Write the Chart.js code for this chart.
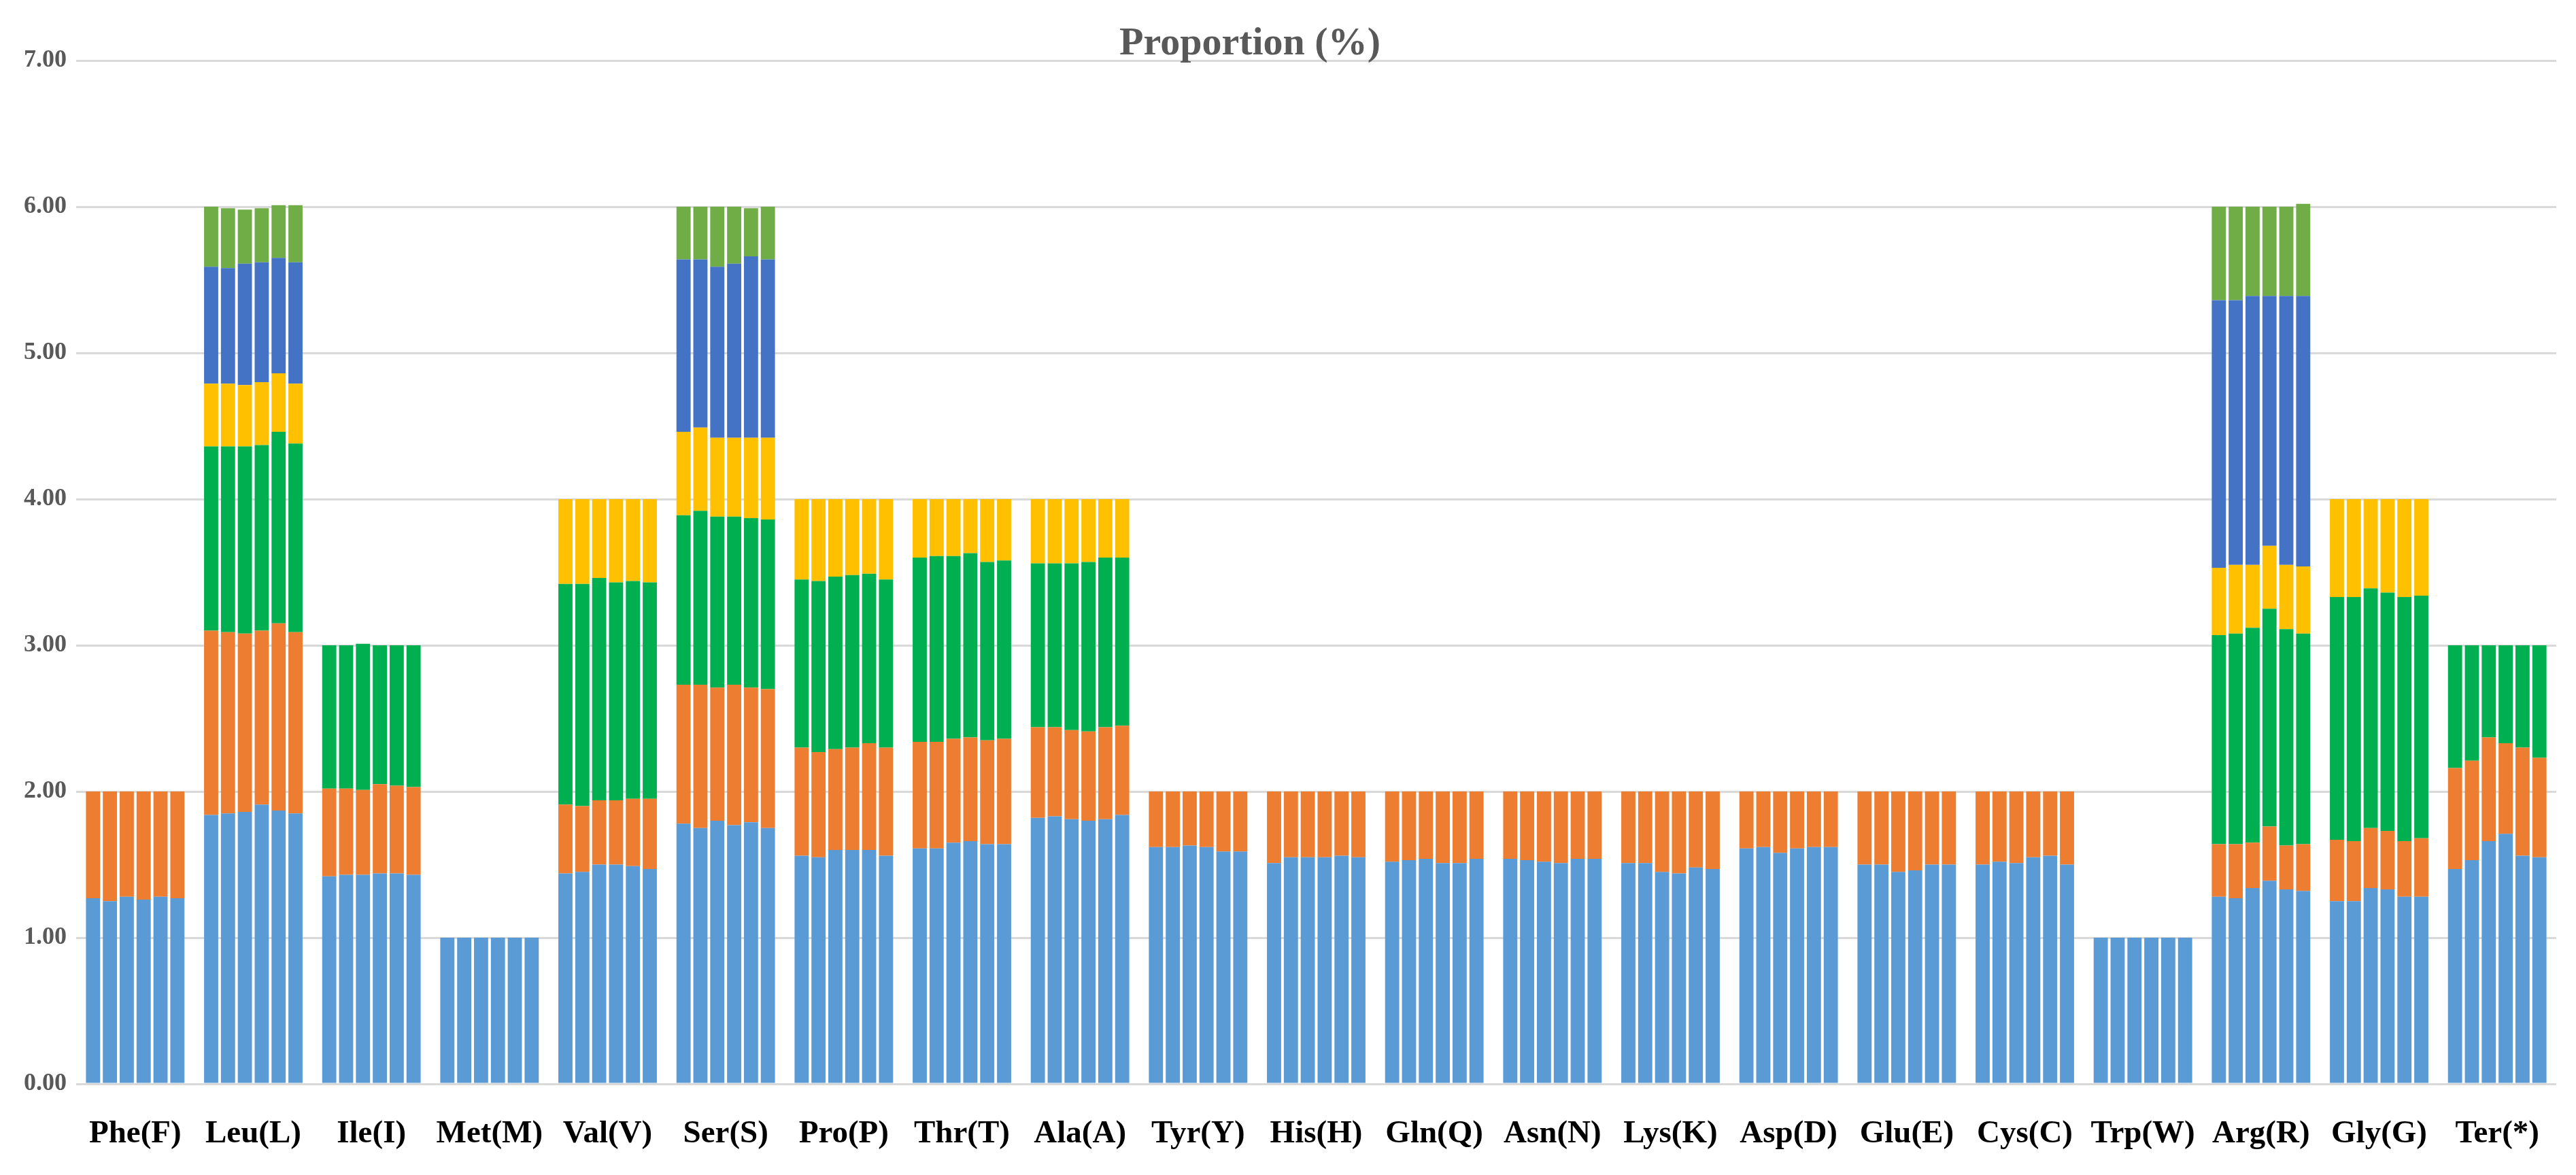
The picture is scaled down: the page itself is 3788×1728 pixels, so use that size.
<!DOCTYPE html>
<html>
<head>
<meta charset="utf-8">
<script src="https://cdn.jsdelivr.net/npm/chart.js@4.4.1/dist/chart.umd.min.js"></script>
<style>
  html, body { margin: 0; padding: 0; background: #fff; }
  #contenedor { width: 3788px; height: 1728px; }
</style>
</head>
<body>
<div id="contenedor"><canvas id="grafico"></canvas></div>
<script>
const aminoacidos = ['Phe(F)', 'Leu(L)', 'Ile(I)', 'Met(M)', 'Val(V)', 'Ser(S)', 'Pro(P)',
    'Thr(T)', 'Ala(A)', 'Tyr(Y)', 'His(H)', 'Gln(Q)', 'Asn(N)', 'Lys(K)', 'Asp(D)',
    'Glu(E)', 'Cys(C)', 'Trp(W)', 'Arg(R)', 'Gly(G)', 'Ter(*)'];

const ticksY = [0, 1, 2, 3, 4, 5, 6, 7];

// cada fila = una barra del grupo, cada columna = un codón (de abajo hacia arriba)
const phe = [[1.27, 0.73], [1.25, 0.75], [1.28, 0.72], [1.26, 0.74], [1.28, 0.72], [1.27, 0.73]];
const leu = [
    [1.84, 1.26, 1.26, 0.43, 0.80, 0.41],
    [1.85, 1.24, 1.27, 0.43, 0.79, 0.41],
    [1.86, 1.22, 1.28, 0.42, 0.83, 0.37],
    [1.91, 1.19, 1.27, 0.43, 0.82, 0.37],
    [1.87, 1.28, 1.31, 0.40, 0.79, 0.36],
    [1.85, 1.24, 1.29, 0.41, 0.83, 0.39]];
const ile = [[1.42, 0.60, 0.98], [1.43, 0.59, 0.98], [1.43, 0.58, 1.00], [1.44, 0.61, 0.95], [1.44, 0.60, 0.96], [1.43, 0.60, 0.97]];
const met = [[1], [1], [1], [1], [1], [1]];
const val = [
    [1.44, 0.47, 1.51, 0.58], [1.45, 0.45, 1.52, 0.58], [1.50, 0.44, 1.52, 0.54],
    [1.50, 0.44, 1.49, 0.57], [1.49, 0.46, 1.49, 0.56], [1.47, 0.48, 1.48, 0.57]];
const ser = [
    [1.78, 0.95, 1.16, 0.57, 1.18, 0.36],
    [1.75, 0.98, 1.19, 0.57, 1.15, 0.36],
    [1.80, 0.91, 1.17, 0.54, 1.17, 0.41],
    [1.77, 0.96, 1.15, 0.54, 1.19, 0.39],
    [1.79, 0.92, 1.16, 0.55, 1.24, 0.33],
    [1.75, 0.95, 1.16, 0.56, 1.22, 0.36]];
const pro = [
    [1.56, 0.74, 1.15, 0.55], [1.55, 0.72, 1.17, 0.56], [1.60, 0.69, 1.18, 0.53],
    [1.60, 0.70, 1.18, 0.52], [1.60, 0.73, 1.16, 0.51], [1.56, 0.74, 1.15, 0.55]];
const thr = [
    [1.61, 0.73, 1.26, 0.40], [1.61, 0.73, 1.27, 0.39], [1.65, 0.71, 1.25, 0.39],
    [1.66, 0.71, 1.26, 0.37], [1.64, 0.71, 1.22, 0.43], [1.64, 0.72, 1.22, 0.42]];
const ala = [
    [1.82, 0.62, 1.12, 0.44], [1.83, 0.61, 1.12, 0.44], [1.81, 0.61, 1.14, 0.44],
    [1.80, 0.61, 1.16, 0.43], [1.81, 0.63, 1.16, 0.40], [1.84, 0.61, 1.15, 0.40]];
const tyr = [[1.62, 0.38], [1.62, 0.38], [1.63, 0.37], [1.62, 0.38], [1.59, 0.41], [1.59, 0.41]];
const his = [[1.51, 0.49], [1.55, 0.45], [1.55, 0.45], [1.55, 0.45], [1.56, 0.44], [1.55, 0.45]];
const gln = [[1.52, 0.48], [1.53, 0.47], [1.54, 0.46], [1.51, 0.49], [1.51, 0.49], [1.54, 0.46]];
const asn = [[1.54, 0.46], [1.53, 0.47], [1.52, 0.48], [1.51, 0.49], [1.54, 0.46], [1.54, 0.46]];
const lys = [[1.51, 0.49], [1.51, 0.49], [1.45, 0.55], [1.44, 0.56], [1.48, 0.52], [1.47, 0.53]];
const asp = [[1.61, 0.39], [1.62, 0.38], [1.58, 0.42], [1.61, 0.39], [1.62, 0.38], [1.62, 0.38]];
const glu = [[1.50, 0.50], [1.50, 0.50], [1.45, 0.55], [1.46, 0.54], [1.50, 0.50], [1.50, 0.50]];
const cys = [[1.50, 0.50], [1.52, 0.48], [1.51, 0.49], [1.55, 0.45], [1.56, 0.44], [1.50, 0.50]];
const trp = [[1], [1], [1], [1], [1], [1]];
const arg = [
    [1.28, 0.36, 1.43, 0.46, 1.83, 0.64],
    [1.27, 0.37, 1.44, 0.47, 1.81, 0.64],
    [1.34, 0.31, 1.47, 0.43, 1.84, 0.61],
    [1.39, 0.37, 1.49, 0.43, 1.71, 0.61],
    [1.33, 0.30, 1.48, 0.44, 1.84, 0.61],
    [1.32, 0.32, 1.44, 0.46, 1.85, 0.63]];
const gly = [
    [1.25, 0.42, 1.66, 0.67], [1.25, 0.41, 1.67, 0.67], [1.34, 0.41, 1.64, 0.61],
    [1.33, 0.40, 1.63, 0.64], [1.28, 0.38, 1.67, 0.67], [1.28, 0.40, 1.66, 0.66]];
const ter = [[1.47, 0.69, 0.84], [1.53, 0.68, 0.79], [1.66, 0.71, 0.63], [1.71, 0.62, 0.67], [1.56, 0.74, 0.70], [1.55, 0.68, 0.77]];

const valoresPorAminoacido = [phe, leu, ile, met, val, ser, pro, thr, ala, tyr, his,
    gln, asn, lys, asp, glu, cys, trp, arg, gly, ter];

const coloresCodon = ['#5B9BD5', '#ED7D31', '#00B050', '#FFC000', '#4472C4', '#70AD47'];

const FUENTE = '"Liberation Serif", "Times New Roman", serif';

// una pila por barra del grupo (6), un dataset por codón dentro de cada pila
const datasets = [];
for (let barra = 0; barra < 6; barra++) {
    for (let codon = 0; codon < 6; codon++) {
        datasets.push({
            label: `Codón ${codon + 1} (${barra + 1})`,
            stack: 'barra' + barra,
            data: valoresPorAminoacido.map(aa => {
                const v = aa[barra][codon];
                return v === undefined ? null : v;
            }),
            backgroundColor: coloresCodon[codon],
            borderWidth: 0,
            categoryPercentage: 0.857,
            barPercentage: 0.84
        });
    }
}

// Título dibujado justo encima de la línea de 7.00, como en el original
const tituloPlugin = {
    id: 'tituloPlugin',
    afterDraw(chart) {
        const ctx = chart.ctx;
        ctx.save();
        ctx.font = 'bold 58px ' + FUENTE;
        ctx.fillStyle = '#595959';
        ctx.textAlign = 'center';
        ctx.textBaseline = 'alphabetic';
        ctx.fillText('Proportion (%)', 1838, 80);
        ctx.restore();
    }
};

new Chart(document.getElementById('grafico'), {
    type: 'bar',
    data: { labels: aminoacidos, datasets: datasets },
    plugins: [tituloPlugin],
    options: {
        responsive: true,
        maintainAspectRatio: false,
        devicePixelRatio: 1,
        animation: false,
        layout: { padding: { top: 89, right: 29, bottom: 0, left: 0 } },
        plugins: {
            legend: { display: false },
            title: { display: false },
            tooltip: { enabled: false }
        },
        scales: {
            x: {
                stacked: true,
                grid: { display: false },
                border: { display: false },
                ticks: {
                    color: '#000000',
                    padding: 38,
                    maxRotation: 0,
                    autoSkip: false,
                    font: { family: FUENTE, size: 47, weight: 'bold' }
                },
                afterFit(scale) { scale.height = 134; }
            },
            y: {
                stacked: true,
                min: 0,
                max: 7,
                afterBuildTicks(scale) { scale.ticks = ticksY.map(v => ({ value: v })); },
                grid: { color: '#D9D9D9', lineWidth: 3, drawTicks: false },
                border: { display: false },
                ticks: {
                    color: '#595959',
                    padding: 14,
                    font: { family: FUENTE, size: 36, weight: 'bold' },
                    callback: v => Number(v).toFixed(2)
                },
                afterFit(scale) { scale.width = 112; }
            }
        }
    }
});
</script>
</body>
</html>
